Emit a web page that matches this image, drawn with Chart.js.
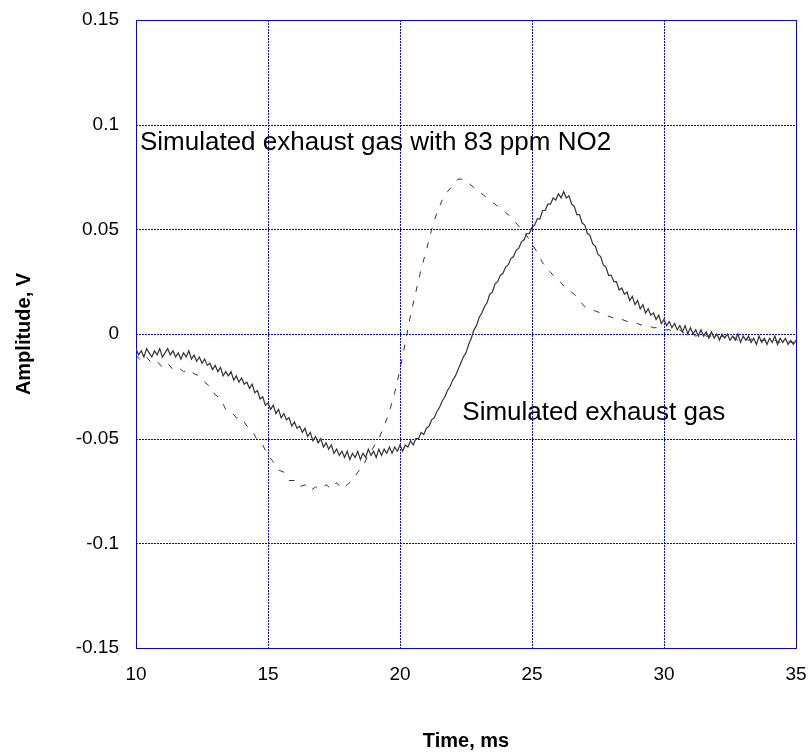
<!DOCTYPE html>
<html>
<head>
<meta charset="utf-8">
<script src="https://cdn.jsdelivr.net/npm/chart.js@4"></script>
<style>
  html, body { margin: 0; padding: 0; background: #fff; }
  #wrap { width: 812px; height: 754px; }
</style>
</head>
<body>
<div id="wrap"><canvas id="chart" width="812" height="754"></canvas></div>
<script>
// time axis for the solid trace, ms (0.1 ms step)
const timeFine = [
  10.0,10.1,10.2,10.3,10.4,10.5,10.6,10.7,10.8,10.9,
  11.0,11.1,11.2,11.3,11.4,11.5,11.6,11.7,11.8,11.9,
  12.0,12.1,12.2,12.3,12.4,12.5,12.6,12.7,12.8,12.9,
  13.0,13.1,13.2,13.3,13.4,13.5,13.6,13.7,13.8,13.9,
  14.0,14.1,14.2,14.3,14.4,14.5,14.6,14.7,14.8,14.9,
  15.0,15.1,15.2,15.3,15.4,15.5,15.6,15.7,15.8,15.9,
  16.0,16.1,16.2,16.3,16.4,16.5,16.6,16.7,16.8,16.9,
  17.0,17.1,17.2,17.3,17.4,17.5,17.6,17.7,17.8,17.9,
  18.0,18.1,18.2,18.3,18.4,18.5,18.6,18.7,18.8,18.9,
  19.0,19.1,19.2,19.3,19.4,19.5,19.6,19.7,19.8,19.9,
  20.0,20.1,20.2,20.3,20.4,20.5,20.6,20.7,20.8,20.9,
  21.0,21.1,21.2,21.3,21.4,21.5,21.6,21.7,21.8,21.9,
  22.0,22.1,22.2,22.3,22.4,22.5,22.6,22.7,22.8,22.9,
  23.0,23.1,23.2,23.3,23.4,23.5,23.6,23.7,23.8,23.9,
  24.0,24.1,24.2,24.3,24.4,24.5,24.6,24.7,24.8,24.9,
  25.0,25.1,25.2,25.3,25.4,25.5,25.6,25.7,25.8,25.9,
  26.0,26.1,26.2,26.3,26.4,26.5,26.6,26.7,26.8,26.9,
  27.0,27.1,27.2,27.3,27.4,27.5,27.6,27.7,27.8,27.9,
  28.0,28.1,28.2,28.3,28.4,28.5,28.6,28.7,28.8,28.9,
  29.0,29.1,29.2,29.3,29.4,29.5,29.6,29.7,29.8,29.9,
  30.0,30.1,30.2,30.3,30.4,30.5,30.6,30.7,30.8,30.9,
  31.0,31.1,31.2,31.3,31.4,31.5,31.6,31.7,31.8,31.9,
  32.0,32.1,32.2,32.3,32.4,32.5,32.6,32.7,32.8,32.9,
  33.0,33.1,33.2,33.3,33.4,33.5,33.6,33.7,33.8,33.9,
  34.0,34.1,34.2,34.3,34.4,34.5,34.6,34.7,34.8,34.9,
  35.0
];

// Simulated exhaust gas (solid)
const exhaustGas = [
  -0.007,-0.010,-0.008,-0.011,-0.007,-0.009,-0.011,-0.008,-0.010,-0.007,
  -0.011,-0.009,-0.007,-0.010,-0.008,-0.011,-0.009,-0.012,-0.009,-0.011,
  -0.008,-0.012,-0.010,-0.013,-0.011,-0.014,-0.012,-0.015,-0.014,-0.017,
  -0.015,-0.018,-0.016,-0.020,-0.018,-0.020,-0.018,-0.022,-0.020,-0.023,
  -0.021,-0.024,-0.023,-0.026,-0.024,-0.028,-0.027,-0.031,-0.030,-0.034,
  -0.033,-0.036,-0.034,-0.038,-0.036,-0.040,-0.038,-0.041,-0.040,-0.044,
  -0.042,-0.045,-0.044,-0.047,-0.045,-0.049,-0.047,-0.051,-0.049,-0.052,
  -0.050,-0.054,-0.052,-0.055,-0.053,-0.057,-0.055,-0.058,-0.056,-0.059,
  -0.056,-0.060,-0.057,-0.059,-0.056,-0.060,-0.057,-0.059,-0.055,-0.058,
  -0.056,-0.059,-0.055,-0.058,-0.055,-0.057,-0.054,-0.057,-0.054,-0.056,
  -0.053,-0.056,-0.053,-0.054,-0.051,-0.053,-0.050,-0.050,-0.047,-0.048,
  -0.045,-0.044,-0.041,-0.040,-0.037,-0.035,-0.032,-0.030,-0.027,-0.025,
  -0.022,-0.020,-0.017,-0.014,-0.011,-0.009,-0.005,-0.002,0.002,0.004,
  0.008,0.010,0.013,0.015,0.019,0.020,0.024,0.025,0.028,0.029,
  0.032,0.033,0.036,0.037,0.040,0.041,0.044,0.045,0.048,0.048,
  0.051,0.052,0.055,0.055,0.059,0.059,0.062,0.062,0.065,0.064,
  0.067,0.065,0.068,0.065,0.066,0.062,0.061,0.057,0.057,0.053,
  0.052,0.048,0.047,0.043,0.042,0.038,0.037,0.033,0.032,0.028,
  0.028,0.025,0.025,0.021,0.022,0.019,0.020,0.016,0.018,0.014,
  0.016,0.012,0.014,0.010,0.012,0.009,0.010,0.007,0.009,0.005,
  0.007,0.004,0.006,0.003,0.005,0.002,0.004,0.001,0.004,0.000,
  0.003,0.000,0.002,-0.001,0.002,-0.001,0.001,-0.002,0.001,-0.002,
  0.000,-0.003,0.000,-0.002,0.000,-0.003,-0.001,-0.003,0.000,-0.004,
  -0.001,-0.003,-0.001,-0.004,-0.002,-0.005,-0.001,-0.004,-0.002,-0.005,
  -0.002,-0.004,-0.001,-0.005,-0.002,-0.004,-0.002,-0.005,-0.003,-0.005,
  -0.003
];

// time axis for the dashed trace, ms (0.2 ms step)
const timeCoarse = [
  10.0,10.2,10.4,10.6,10.8,11.0,11.2,11.4,11.6,11.8,12.0,12.2,12.4,12.6,12.8,
  13.0,13.2,13.4,13.6,13.8,14.0,14.2,14.4,14.6,14.8,15.0,15.2,15.4,15.6,15.8,
  16.0,16.2,16.4,16.6,16.8,17.0,17.2,17.4,17.6,17.8,18.0,18.2,18.4,18.6,18.8,
  19.0,19.2,19.4,19.6,19.8,20.0,20.2,20.4,20.6,20.8,21.0,21.2,21.4,21.6,21.8,
  22.0,22.2,22.4,22.6,22.8,23.0,23.2,23.4,23.6,23.8,24.0,24.2,24.4,24.6,24.8,
  25.0,25.2,25.4,25.6,25.8,26.0,26.2,26.4,26.6,26.8,27.0,27.2,27.4,27.6,27.8,
  28.0,28.2,28.4,28.6,28.8,29.0,29.2,29.4,29.6,29.8,30.0,30.2,30.4,30.6,30.8,
  31.0,31.2,31.4,31.6,31.8,32.0,32.2,32.4,32.6,32.8,33.0,33.2,33.4,33.6,33.8,
  34.0,34.2,34.4,34.6,34.8,35.0
];

// Simulated exhaust gas with 83 ppm NO2 (dashed)
const exhaustNO2 = [
  -0.010,-0.013,-0.011,-0.014,-0.013,-0.016,-0.014,-0.017,-0.016,-0.018,-0.017,-0.019,-0.020,-0.023,-0.025,
  -0.029,-0.031,-0.036,-0.037,-0.040,-0.040,-0.044,-0.046,-0.051,-0.053,-0.058,-0.061,-0.065,-0.066,-0.070,
  -0.070,-0.073,-0.072,-0.075,-0.073,-0.074,-0.072,-0.074,-0.071,-0.074,-0.072,-0.070,-0.066,-0.063,-0.058,
  -0.054,-0.050,-0.044,-0.037,-0.028,-0.017,-0.004,0.009,0.020,0.031,0.040,0.050,0.058,0.064,0.068,
  0.071,0.074,0.074,0.072,0.070,0.068,0.066,0.064,0.062,0.060,0.058,0.056,0.053,0.050,0.047,
  0.043,0.039,0.034,0.031,0.028,0.026,0.023,0.021,0.019,0.016,0.013,0.012,0.011,0.010,0.009,
  0.008,0.007,0.007,0.006,0.006,0.005,0.004,0.004,0.003,0.003,0.002,0.002,0.001,0.002,0.000,
  0.001,-0.001,0.000,-0.001,-0.001,-0.002,-0.001,-0.002,-0.001,-0.003,-0.002,-0.003,-0.002,-0.003,-0.003,
  -0.004,-0.003,-0.004,-0.003,-0.004,-0.004
];

const xTicks = [10, 15, 20, 25, 30, 35];
const yTicks = [-0.15, -0.1, -0.05, 0, 0.05, 0.1, 0.15];
const yTickLabels = ['-0.15', '-0.1', '-0.05', '0', '0.05', '0.1', '0.15'];

// in-plot text labels (data coordinates)
const noteTexts = ['Simulated exhaust gas with 83 ppm NO2', 'Simulated exhaust gas'];
const noteX = [10.15, 22.36];
const noteY = [0.0915, -0.0375];

const BLUE = '#0000ff';
const FONT = 'Arial, "Liberation Sans", Helvetica, sans-serif';

const notesPlugin = {
    id: 'notes',
    afterDatasetsDraw(chart) {
        const { ctx, scales: { x, y } } = chart;
        ctx.save();
        ctx.font = '26px ' + FONT;
        ctx.fillStyle = '#000';
        ctx.textAlign = 'left';
        ctx.textBaseline = 'middle';
        noteTexts.forEach((t, i) => ctx.fillText(t, x.getPixelForValue(noteX[i]), y.getPixelForValue(noteY[i])));
        ctx.restore();
    }
};

// dotted blue grid inside a solid blue box
const framePlugin = {
    id: 'frame',
    beforeDatasetsDraw(chart) {
        const { ctx, chartArea: a, scales: { x, y } } = chart;
        ctx.save();
        ctx.strokeStyle = BLUE;
        ctx.lineWidth = 1;
        ctx.setLineDash([2, 1]);
        ctx.beginPath();
        xTicks.slice(1, -1).forEach(v => {
            const px = Math.round(x.getPixelForValue(v)) + 0.5;
            ctx.moveTo(px, a.top); ctx.lineTo(px, a.bottom);
        });
        yTicks.slice(1, -1).forEach(v => {
            const py = Math.round(y.getPixelForValue(v)) + 0.5;
            ctx.moveTo(a.left, py); ctx.lineTo(a.right, py);
        });
        ctx.stroke();
        ctx.setLineDash([]);
        ctx.strokeRect(Math.round(a.left) + 0.5, Math.round(a.top) + 0.5,
                       Math.round(a.right - a.left), Math.round(a.bottom - a.top));
        ctx.restore();
    }
};

new Chart(document.getElementById('chart'), {
    type: 'line',
    data: {
        datasets: [
            {
                label: 'Simulated exhaust gas with 83 ppm NO2',
                data: exhaustNO2.map((v, i) => ({ x: timeCoarse[i], y: v })),
                borderColor: '#333',
                borderWidth: 1,
                borderDash: [6, 9],
                pointRadius: 0,
                tension: 0
            },
            {
                label: 'Simulated exhaust gas',
                data: exhaustGas.map((v, i) => ({ x: timeFine[i], y: v })),
                borderColor: '#333',
                borderWidth: 1.2,
                pointRadius: 0,
                tension: 0
            }
        ]
    },
    options: {
        responsive: false,
        animation: false,
        layout: { padding: { top: 20, right: 16, left: 0, bottom: 0 } },
        plugins: {
            legend: { display: false },
            tooltip: { enabled: false }
        },
        scales: {
            x: {
                type: 'linear',
                min: 10, max: 35,
                afterBuildTicks: s => { s.ticks = xTicks.map(v => ({ value: v })); },
                afterFit: s => { s.height = 106; s.paddingLeft = 0; s.paddingRight = 0; },
                grid: { display: false, drawTicks: false },
                border: { display: false },
                ticks: { color: '#000', font: { family: FONT, size: 19 }, padding: 15, maxRotation: 0 },
                title: { display: true, text: 'Time, ms', color: '#000',
                         font: { family: FONT, size: 20, weight: 'bold' }, padding: { top: 0, bottom: 1 } }
            },
            y: {
                type: 'linear',
                min: -0.15, max: 0.15,
                afterBuildTicks: s => { s.ticks = yTicks.map(v => ({ value: v })); },
                afterFit: s => { s.width = 136; s.paddingTop = 0; s.paddingBottom = 0; },
                grid: { display: false, drawTicks: false },
                border: { display: false },
                ticks: { color: '#000', font: { family: FONT, size: 19 }, padding: 17,
                         callback: (v, i) => yTickLabels[i] },
                title: { display: true, text: 'Amplitude, V', color: '#000',
                         font: { family: FONT, size: 20, weight: 'bold' }, padding: { top: 12, bottom: 0 } }
            }
        }
    },
    plugins: [framePlugin, notesPlugin]
});
</script>
</body>
</html>
